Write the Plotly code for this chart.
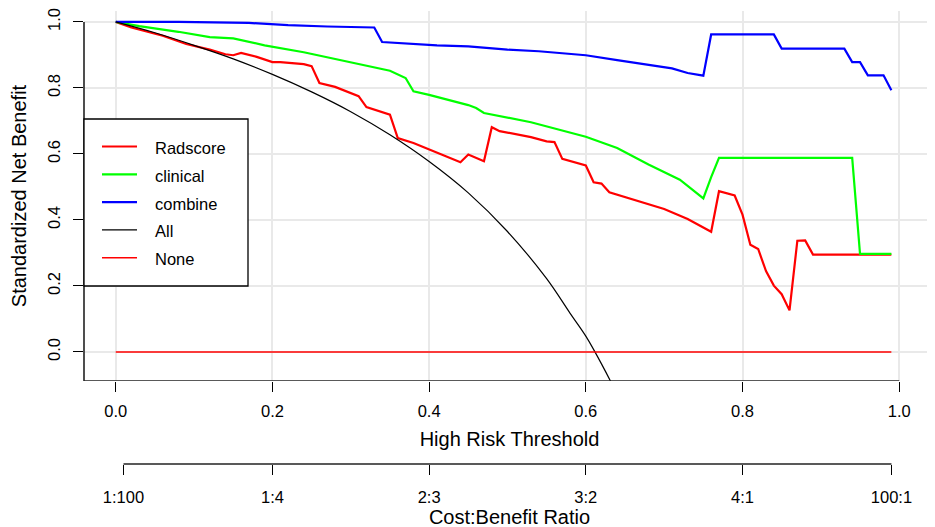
import plotly.graph_objects as go

# decision curve data (threshold, standardized net benefit)
radscore_t = [0.00, 0.02, 0.06, 0.09, 0.12, 0.14, 0.15, 0.16, 0.18, 0.20, 0.21, 0.23, 0.24,
              0.25, 0.26, 0.28, 0.31, 0.32, 0.35, 0.36, 0.38, 0.44, 0.45, 0.47, 0.48, 0.49,
              0.51, 0.53, 0.55, 0.56, 0.57, 0.60, 0.61, 0.62, 0.63, 0.66, 0.70, 0.73, 0.76,
              0.77, 0.78, 0.79, 0.80, 0.81, 0.82, 0.83, 0.84, 0.85, 0.86, 0.87, 0.88, 0.89, 0.99]
radscore_nb = [1.000, 0.983, 0.958, 0.933, 0.916, 0.902, 0.899, 0.906, 0.894, 0.878, 0.878, 0.874, 0.872,
               0.866, 0.815, 0.803, 0.775, 0.742, 0.719, 0.648, 0.633, 0.575, 0.598, 0.578, 0.681, 0.669,
               0.659, 0.651, 0.638, 0.636, 0.585, 0.565, 0.514, 0.510, 0.484, 0.462, 0.433, 0.403, 0.364,
               0.487, 0.480, 0.474, 0.416, 0.325, 0.312, 0.245, 0.201, 0.175, 0.126, 0.337, 0.338, 0.295, 0.295]

clinical_t = [0.00, 0.03, 0.08, 0.12, 0.15, 0.19, 0.24, 0.28, 0.32, 0.35, 0.37, 0.38, 0.40,
              0.45, 0.46, 0.47, 0.53, 0.60, 0.64, 0.68, 0.72, 0.75, 0.76, 0.77, 0.94, 0.95, 0.99]
clinical_nb = [1.000, 0.987, 0.970, 0.954, 0.950, 0.929, 0.908, 0.888, 0.868, 0.852, 0.830, 0.790, 0.779,
               0.748, 0.739, 0.724, 0.696, 0.652, 0.618, 0.568, 0.522, 0.465, 0.530, 0.588, 0.588, 0.297, 0.297]

combine_t = [0.00, 0.08, 0.17, 0.22, 0.27, 0.33, 0.34, 0.38, 0.41, 0.45, 0.50, 0.54, 0.57,
             0.60, 0.64, 0.68, 0.71, 0.73, 0.75, 0.76, 0.84, 0.85, 0.93, 0.94, 0.95, 0.96, 0.98, 0.99]
combine_nb = [1.000, 1.000, 0.997, 0.990, 0.986, 0.983, 0.939, 0.933, 0.929, 0.926, 0.916, 0.911, 0.906,
              0.899, 0.884, 0.871, 0.859, 0.845, 0.837, 0.962, 0.962, 0.919, 0.919, 0.878, 0.878, 0.838, 0.838, 0.793]

all_t = [0.00, 0.05, 0.10, 0.15, 0.20, 0.25, 0.30, 0.35, 0.40, 0.45, 0.50, 0.55, 0.58, 0.60, 0.62, 0.64, 0.66]
all_nb = [1.000, 0.967, 0.929, 0.888, 0.841, 0.788, 0.728, 0.658, 0.577, 0.482, 0.365, 0.222, 0.117, 0.048, -0.036, -0.129, -0.232]

none_t = [0.00, 0.99]
none_nb = [0.0, 0.0]

axis_ticks = [0.0, 0.2, 0.4, 0.6, 0.8, 1.0]
cost_benefit = ["1:100", "1:4", "2:3", "3:2", "4:1", "100:1"]

# threshold that matches each cost:benefit label
def ratio_to_threshold(label):
    c, b = label.split(":")
    return float(c) / (float(c) + float(b))

cb_ticks = [ratio_to_threshold(s) for s in cost_benefit]

FONT = "Liberation Sans, Arial, sans-serif"
W, H = 935, 527
M_L, M_R, M_T, M_B = 76, 8, 3, 71   # page body adds 8px on top/left
X_RANGE = [-0.0405, 1.0457]
Y_RANGE = [-0.088, 1.033]

series = [
    ("Radscore", radscore_t, radscore_nb, "#ff0000", 2.2),
    ("clinical", clinical_t, clinical_nb, "#00ff00", 2.2),
    ("combine", combine_t, combine_nb, "#0000ff", 2.2),
    ("All", all_t, all_nb, "black", 1.2),
    ("None", none_t, none_nb, "#ff0000", 1.4),
]

fig = go.Figure()
for name, xs, ys, col, lw in series:
    fig.add_scatter(x=xs, y=ys, mode="lines", name=name, showlegend=False,
                    line=dict(color=col, width=lw),
                    line_shape="spline" if name == "All" else "linear")
# invisible helper so the cost:benefit axis gets drawn
fig.add_scatter(x=cb_ticks, y=[0] * len(cb_ticks), xaxis="x2", mode="markers",
                marker=dict(opacity=0), showlegend=False, hoverinfo="skip")

fig.update_layout(
    width=W, height=H,
    margin=dict(l=M_L, r=M_R, t=M_T, b=M_B),
    paper_bgcolor="white", plot_bgcolor="white",
    font=dict(family=FONT, size=16.5, color="black"),
    showlegend=False,
    xaxis=dict(range=X_RANGE, domain=[0, 1], anchor="y", automargin=False,
               tickvals=axis_ticks, tickformat=".1f", ticklabelstandoff=5,
               ticklabeloverflow="allow",
               ticks="outside", ticklen=10, tickcolor="black", tickwidth=1.3,
               showgrid=True, gridcolor="#e9e9e9", gridwidth=1.5,
               zeroline=False, showline=False,
               title=dict(text="High Risk Threshold", standoff=13)),
    yaxis=dict(range=Y_RANGE, domain=[0.1832, 1], automargin=False,
               tickvals=axis_ticks, tickformat=".1f", tickangle=-90, ticklabelstandoff=6,
               ticklabeloverflow="allow",
               ticks="outside", ticklen=10, tickcolor="black", tickwidth=1.3,
               showgrid=True, gridcolor="#e9e9e9", gridwidth=1.5,
               zeroline=False, showline=False,
               title=dict(text="Standardized Net Benefit", standoff=27)),
    xaxis2=dict(range=X_RANGE, overlaying="x", anchor="free", position=0, side="bottom",
                automargin=False, tickvals=cb_ticks, ticktext=cost_benefit, ticklabelstandoff=8,
                ticklabeloverflow="allow",
                ticks="outside", ticklen=10, tickcolor="black", tickwidth=1.3,
                showgrid=False, zeroline=False, showline=False,
                title=dict(text="Cost:Benefit Ratio", standoff=2)),
)

# R style axis lines: left and bottom of the panel, plus the cost:benefit line
fig.add_shape(type="line", xref="paper", yref="y", x0=0, x1=0, y0=Y_RANGE[0], y1=1.0,
              line=dict(color="#222222", width=1.6))
fig.add_shape(type="line", xref="x", yref="y", x0=X_RANGE[0], x1=1.0, y0=Y_RANGE[0], y1=Y_RANGE[0],
              line=dict(color="#222222", width=1.6))
fig.add_shape(type="line", xref="x", yref="paper", x0=cb_ticks[0], x1=cb_ticks[-1], y0=0, y1=0,
              line=dict(color="#222222", width=1.6))

# legend box drawn R style (placed in figure pixels, relative to the plot top)
plot_w = W - M_L - M_R
plot_h = H - M_T - M_B
def px(fx):
    return (fx - M_L) / plot_w
def py(fy):
    return (plot_h - fy) / plot_h

fig.add_shape(type="rect", xref="paper", yref="paper",
              x0=px(76), x1=px(240), y0=py(275), y1=py(108),
              fillcolor="white", line=dict(color="black", width=1.3), layer="above")
row_y = 135.5
for name, xs, ys, col, lw in series:
    fig.add_shape(type="line", xref="paper", yref="paper",
                  x0=px(94), x1=px(129), y0=py(row_y), y1=py(row_y),
                  line=dict(color=col, width=lw), layer="above")
    fig.add_annotation(text=name, xref="paper", yref="paper", x=px(145), y=py(row_y + 1.5),
                       xanchor="left", yanchor="middle", showarrow=False,
                       font=dict(size=16.5, color="black"))
    row_y += 27.8

fig.write_html("out.html")
